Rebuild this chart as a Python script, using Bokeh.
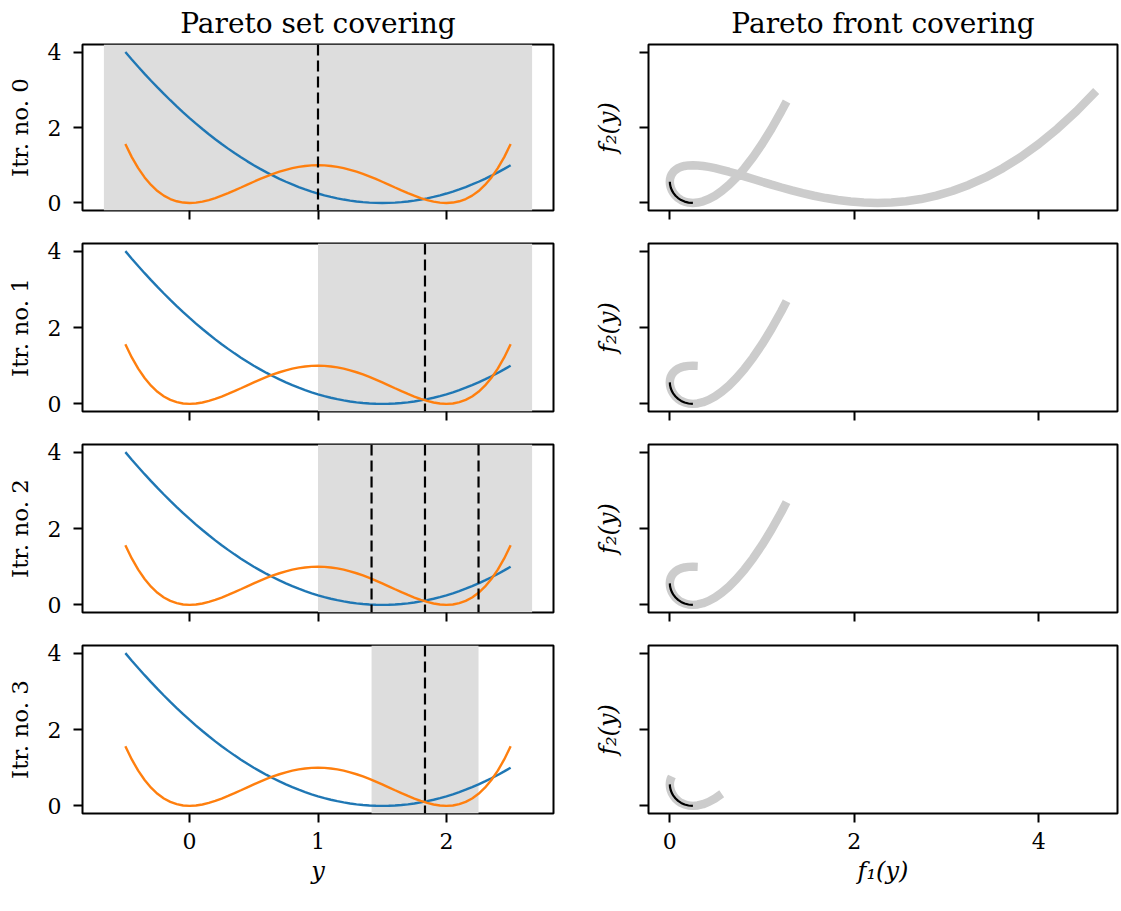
import numpy as np
from bokeh.plotting import figure
from bokeh.layouts import gridplot
from bokeh.models import Range1d, FixedTicker, BoxAnnotation, Span
from bokeh.embed import file_html
from bokeh.resources import INLINE

# Decision variable samples and the two objective values at each sample
y_grid = [-0.65, -0.6, -0.55, -0.5, -0.45, -0.4, -0.35, -0.3, -0.25, -0.2, -0.15, -0.1,
          -0.05, 0.0, 0.05, 0.1, 0.15, 0.2, 0.25, 0.3, 0.35, 0.4, 0.45, 0.5, 0.55, 0.6,
          0.65, 0.7, 0.75, 0.8, 0.85, 0.9, 0.95, 1.0, 1.05, 1.1, 1.15, 1.2, 1.25, 1.3,
          1.35, 1.4, 1.45, 1.5, 1.55, 1.6, 1.65, 1.7, 1.75, 1.8, 1.85, 1.9, 1.95, 2.0,
          2.05, 2.1, 2.15, 2.2, 2.25, 2.3, 2.35, 2.4, 2.45, 2.5, 2.55, 2.6, 2.625]
f1_vals = [4.6225, 4.41, 4.2025, 4.0, 3.8025, 3.61, 3.4225, 3.24, 3.0625, 2.89, 2.7225, 2.56,
           2.4025, 2.25, 2.1025, 1.96, 1.8225, 1.69, 1.5625, 1.44, 1.3225, 1.21, 1.1025, 1.0,
           0.9025, 0.81, 0.7225, 0.64, 0.5625, 0.49, 0.4225, 0.36, 0.3025, 0.25, 0.2025, 0.16,
           0.1225, 0.09, 0.0625, 0.04, 0.0225, 0.01, 0.0025, 0.0, 0.0025, 0.01, 0.0225, 0.04,
           0.0625, 0.09, 0.1225, 0.16, 0.2025, 0.25, 0.3025, 0.36, 0.4225, 0.49, 0.5625, 0.64,
           0.7225, 0.81, 0.9025, 1.0, 1.1025, 1.21, 1.2656]
f2_vals = [2.967, 2.4336, 1.967, 1.5625, 1.2155, 0.9216, 0.6765, 0.4761, 0.3164, 0.1936, 0.104,
           0.0441, 0.0105, 0.0, 0.0095, 0.0361, 0.077, 0.1296, 0.1914, 0.2601, 0.3335, 0.4096,
           0.4865, 0.5625, 0.636, 0.7056, 0.77, 0.8281, 0.8789, 0.9216, 0.9555, 0.9801, 0.995,
           1.0, 0.995, 0.9801, 0.9555, 0.9216, 0.8789, 0.8281, 0.77, 0.7056, 0.636, 0.5625,
           0.4865, 0.4096, 0.3335, 0.2601, 0.1914, 0.1296, 0.077, 0.0361, 0.0095, 0.0, 0.0105,
           0.0441, 0.104, 0.1936, 0.3164, 0.4761, 0.6765, 0.9216, 1.2155, 1.5625, 1.967, 2.4336,
           2.6917]

# Plotted range of the objective curves and the true Pareto set
curve_lo, curve_hi = -0.5, 2.5
pareto_lo, pareto_hi = 1.5, 2.0

# Per-iteration covering box, bisection cuts and the image of the box
iterations = [0, 1, 2, 3]
box_lo = [-0.667, 1.0, 1.0, 1.417]
box_hi = [2.667, 2.667, 2.667, 2.25]
cut_points = [[1.0], [1.833], [1.417, 1.833, 2.25], [1.833]]
front_lo = [-0.65, 0.95, 0.95, 1.35]
front_hi = [2.625, 2.625, 2.625, 2.25]

set_ticks = [0, 1, 2]
front_ticks = [0, 2, 4]
value_ticks = [0, 2, 4]

FONT = "DejaVu Serif"
BLUE, ORANGE = "#1f77b4", "#ff7f0e"
BOX_GRAY, FRONT_GRAY = "#dddddd", "#cccccc"

yv = np.array(y_grid)
f1 = np.array(f1_vals)
f2 = np.array(f2_vals)


def between(lo, hi):
    return (yv >= lo - 1e-9) & (yv <= hi + 1e-9)


def padded(lo, hi, frac=0.05):
    d = (hi - lo) * frac
    return lo - d, hi + d


curve_mask = between(curve_lo, curve_hi)
pareto_mask = between(pareto_lo, pareto_hi)

set_x = padded(min(box_lo), max(box_hi))
val_y = padded(min(f1[curve_mask].min(), f2[curve_mask].min()),
               max(f1[curve_mask].max(), f2[curve_mask].max()))
front_f1 = np.concatenate([f1[between(lo, hi)] for lo, hi in zip(front_lo, front_hi)])
front_x = padded(front_f1.min(), front_f1.max())

n_rows = len(iterations)
row_heights = [226, 201, 201, 283]
tops = [42, 17, 17, 17]
bottoms = [16, 16, 16, 98]


def style_axis(ax, ticks, show_labels, label="", italic=False, label_size="22px",
               label_standoff=8, tick_standoff=10):
    ax.ticker = FixedTicker(ticks=ticks)
    ax.axis_line_color = None
    ax.major_tick_out = 9
    ax.major_tick_in = 0
    ax.major_tick_line_width = 2
    ax.major_tick_line_color = "black"
    ax.minor_tick_line_color = None
    ax.major_label_text_font = FONT
    ax.major_label_text_font_size = "22px"
    ax.major_label_text_color = "black"
    ax.major_label_standoff = tick_standoff
    if not show_labels:
        ax.major_label_overrides = {t: "" for t in ticks}
        ax.major_label_standoff = 0
    if label:
        ax.axis_label = label
        ax.axis_label_text_font = FONT
        ax.axis_label_text_font_size = label_size
        ax.axis_label_text_font_style = "italic" if italic else "normal"
        ax.axis_label_text_color = "black"
        ax.axis_label_standoff = label_standoff


def make_fig(width, row, left, right, xr, title):
    p = figure(width=width, height=row_heights[row],
               x_range=Range1d(*xr), y_range=Range1d(*val_y),
               output_backend="svg", toolbar_location=None, tools="",
               title=title,
               min_border_left=left, min_border_right=right,
               min_border_top=tops[row], min_border_bottom=bottoms[row])
    p.xgrid.visible = False
    p.ygrid.visible = False
    p.outline_line_color = "black"
    p.outline_line_width = 2
    p.background_fill_color = "white"
    p.border_fill_color = "white"
    if title is not None:
        p.title.align = "center"
        p.title.text_font = FONT
        p.title.text_font_size = "28px"
        p.title.text_font_style = "normal"
        p.title.text_color = "black"
        p.title.standoff = 9
    return p


grid = []
for r, it in enumerate(iterations):
    last = r == n_rows - 1

    # Pareto set covering: objectives over the decision variable
    ps = make_fig(590, r, 82, 37, set_x, "Pareto set covering" if r == 0 else None)
    ps.add_layout(BoxAnnotation(left=box_lo[r], right=box_hi[r], fill_color=BOX_GRAY,
                                fill_alpha=1.0, line_color=None, level="underlay"))
    ps.line(yv[curve_mask], f1[curve_mask], line_color=BLUE, line_width=2.4)
    ps.line(yv[curve_mask], f2[curve_mask], line_color=ORANGE, line_width=2.4)
    for c in cut_points[r]:
        ps.add_layout(Span(location=c, dimension="height", line_color="black",
                           line_width=2.2, line_dash="11 5"))
    style_axis(ps.xaxis[0], set_ticks, last, "y" if last else "", italic=True,
               label_size="24px", label_standoff=5)
    style_axis(ps.yaxis[0], value_ticks, True, f"Itr. no. {it}", italic=False,
               label_size="23px", label_standoff=12, tick_standoff=12)

    # Pareto front covering: image of the covering box in objective space
    pf = make_fig(531, r, 57, 4, front_x, "Pareto front covering" if r == 0 else None)
    m = between(front_lo[r], front_hi[r])
    pf.line(f1[m], f2[m], line_color=FRONT_GRAY, line_width=8.5)
    pf.line(f1[pareto_mask], f2[pareto_mask], line_color="black", line_width=2.2)
    style_axis(pf.xaxis[0], front_ticks, last, "f\u2081(y)" if last else "", italic=True,
               label_size="24px", label_standoff=5)
    style_axis(pf.yaxis[0], value_ticks, False, "f\u2082(y)", italic=True,
               label_size="24px", label_standoff=18)

    grid.append([ps, pf])

layout = gridplot(grid, toolbar_location=None)

with open("out.html", "w") as fh:
    fh.write(file_html(layout, INLINE))
